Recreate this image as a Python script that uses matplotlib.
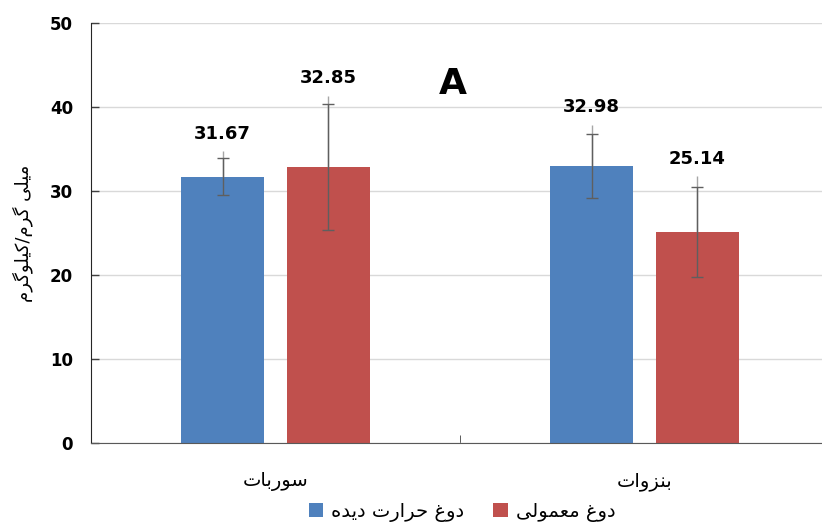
import matplotlib
matplotlib.use("Agg")
import matplotlib.pyplot as plt
import numpy as np

# Data
categories = ["سوربات", "بنزوات"]
series_names = ["دوغ حرارت دیده", "دوغ معمولی"]
heated = [31.67, 32.98]
regular = [32.85, 25.14]
heated_err = [2.2, 3.8]
regular_err = [7.5, 5.34]
# the lighter upper whisker that runs past the cap
heated_err_up = [3.1, 4.9]
regular_err_up = [8.5, 6.66]
y_label = "میلی گرم/کیلوگرم"
panel = "A"

BLUE = "#4F81BD"
RED = "#C0504D"

# presentation forms: isolated, final, initial, medial
FORMS = {
    "ا": ("\uFE8D", "\uFE8E", None, None),
    "د": ("\uFEA9", "\uFEAA", None, None),
    "ر": ("\uFEAD", "\uFEAE", None, None),
    "ز": ("\uFEAF", "\uFEB0", None, None),
    "و": ("\uFEED", "\uFEEE", None, None),
    "ب": ("\uFE8F", "\uFE90", "\uFE91", "\uFE92"),
    "ت": ("\uFE95", "\uFE96", "\uFE97", "\uFE98"),
    "ح": ("\uFEA1", "\uFEA2", "\uFEA3", "\uFEA4"),
    "س": ("\uFEB1", "\uFEB2", "\uFEB3", "\uFEB4"),
    "ع": ("\uFEC9", "\uFECA", "\uFECB", "\uFECC"),
    "غ": ("\uFECD", "\uFECE", "\uFECF", "\uFED0"),
    "ل": ("\uFEDD", "\uFEDE", "\uFEDF", "\uFEE0"),
    "م": ("\uFEE1", "\uFEE2", "\uFEE3", "\uFEE4"),
    "ن": ("\uFEE5", "\uFEE6", "\uFEE7", "\uFEE8"),
    "ه": ("\uFEE9", "\uFEEA", "\uFEEB", "\uFEEC"),
    "ک": ("\uFB8E", "\uFB8F", "\uFB90", "\uFB91"),
    "گ": ("\uFB92", "\uFB93", "\uFB94", "\uFB95"),
    "ی": ("\uFBFC", "\uFBFD", "\uFBFE", "\uFBFF"),
}


def shape(text):
    # join letters and put them in visual (left to right) order
    out = []
    for i, c in enumerate(text):
        if c not in FORMS:
            out.append(c)
            continue
        iso, fin, ini, med = FORMS[c]
        prev = text[i - 1] if i > 0 else None
        nxt = text[i + 1] if i + 1 < len(text) else None
        jp = prev in FORMS and FORMS[prev][2] is not None
        jn = nxt in FORMS and ini is not None
        if jp and jn:
            out.append(med)
        elif jp:
            out.append(fin)
        elif jn:
            out.append(ini)
        else:
            out.append(iso)
    return "".join(reversed(out))


plt.rcParams["font.family"] = ["DejaVu Sans"]

fig = plt.figure(figsize=(8.22, 5.29), dpi=100)
ax = fig.add_axes([91 / 822, 86 / 529, 738 / 822, 420 / 529])

x = np.arange(len(categories))
w = 0.225
off = 0.1436

ax.bar(x - off, heated, w, color=BLUE, zorder=2, label=shape(series_names[0]))
ax.bar(x + off, regular, w, color=RED, zorder=2, label=shape(series_names[1]))

for xs, vals, up in [(x - off, heated, heated_err_up), (x + off, regular, regular_err_up)]:
    ax.errorbar(xs, vals, yerr=[np.zeros(len(vals)), up], fmt="none",
                ecolor="#a6a6a6", elinewidth=1, capsize=0, zorder=3)
for xs, vals, err in [(x - off, heated, heated_err), (x + off, regular, regular_err)]:
    ax.errorbar(xs, vals, yerr=err, fmt="none", ecolor="#5f5f5f",
                elinewidth=1, capsize=4, capthick=1, zorder=4)

for xs, vals, up in [(x - off, heated, heated_err_up), (x + off, regular, regular_err_up)]:
    for xi, v, u in zip(xs, vals, up):
        ax.annotate(f"{v:.2f}", (xi, v + u), xytext=(0, 6), textcoords="offset points",
                    ha="center", va="bottom", fontsize=13, fontweight="bold")

ax.text(0.48, 42.7, panel, ha="center", va="center", fontsize=26, fontweight="bold")

ax.set_xlim(-0.5, 1.5)
ax.set_ylim(0, 50)
ax.set_yticks([0, 10, 20, 30, 40, 50])
ax.tick_params(axis="y", direction="in", length=6, width=1, color="#404040",
               labelsize=12, pad=13)
for t in ax.get_yticklabels():
    t.set_fontweight("bold")
ax.set_xticks(x)
ax.set_xticklabels([shape(c) for c in categories], fontsize=14)
ax.tick_params(axis="x", length=0, pad=21)
ax.set_xticks([0.5], minor=True)
ax.tick_params(axis="x", which="minor", direction="in", length=6, color="#404040")

ax.grid(axis="y", color="#d9d9d9", linewidth=1, zorder=0)
ax.set_axisbelow(True)
for s in ["top", "right"]:
    ax.spines[s].set_visible(False)
ax.spines["left"].set_color("#262626")
ax.spines["bottom"].set_color("#595959")

ax.set_ylabel(shape(y_label), fontsize=13, labelpad=12)

fig.legend(loc="center", bbox_to_anchor=(462 / 822, 17 / 529), ncol=2, frameon=False,
           fontsize=14, handlelength=0.75, handleheight=0.75, handletextpad=0.4,
           columnspacing=1.5)

fig.savefig("out.png", dpi=100)
